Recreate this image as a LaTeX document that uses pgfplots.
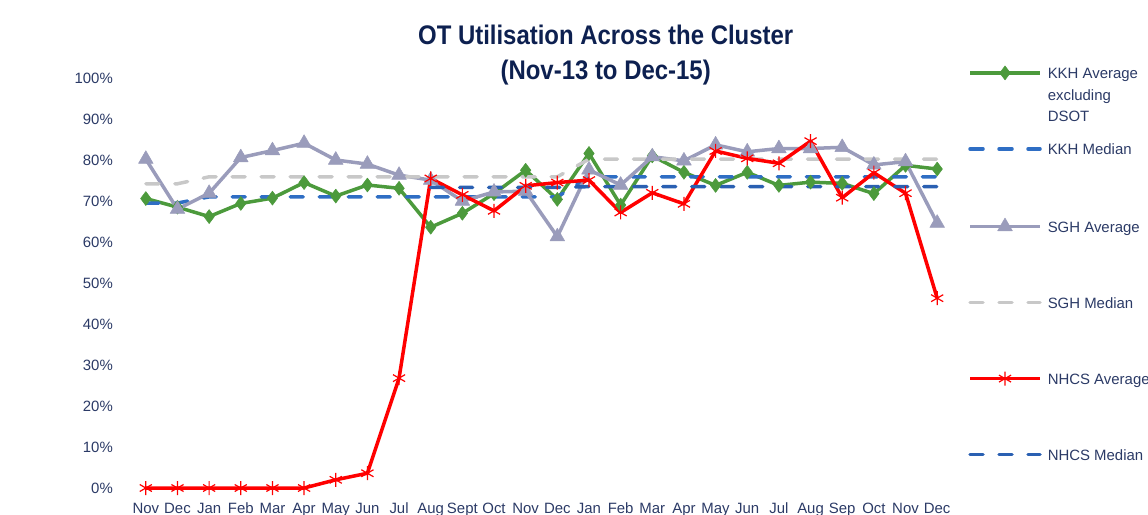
\documentclass[border=0pt]{standalone}
\usepackage{pgfplots}
\pgfplotsset{compat=1.18}
\usepackage{fontspec}
\setmainfont{Liberation Sans}
\definecolor{axtxt}{HTML}{2B3A66}
\definecolor{ttl}{HTML}{0D2050}
\definecolor{kkh}{HTML}{4C9A3C}
\definecolor{kkhmed}{HTML}{2F6EC4}
\definecolor{sgh}{HTML}{9A9CBB}
\definecolor{sghmed}{HTML}{C8C8C8}
\definecolor{nhcs}{HTML}{FF0000}
\definecolor{nhcsmed}{HTML}{2A60B2}
\begin{document}
\begin{tikzpicture}
\begin{axis}[
  at={(130bp,-488bp)}, anchor=south west,
  scale only axis, width=823bp, height=410bp,
  xmin=-0.5, xmax=25.5, ymin=0, ymax=100,
  clip=false,
  axis line style={draw=none},
  major tick length=0pt,
  xtick={0,...,25},
  xticklabels={Nov,Dec,Jan,Feb,Mar,Apr,May,Jun,Jul,Aug,Sept,Oct,Nov,Dec,Jan,Feb,Mar,Apr,May,Jun,Jul,Aug,Sep,Oct,Nov,Dec},
  ytick={0,10,...,100},
  yticklabels={0\%,10\%,20\%,30\%,40\%,50\%,60\%,70\%,80\%,90\%,100\%},
  tick label style={font=\fontsize{15}{18}\selectfont, text=axtxt, inner sep=0pt},
  yticklabel style={xshift=-17bp},
  xticklabel style={anchor=base, yshift=-25bp},
  title={\scalebox{0.89}[1]{OT Utilisation Across the Cluster}\\\scalebox{0.89}[1]{(Nov-13 to Dec-15)}},
  title style={at={(axis description cs:0.578,1.115)}, anchor=north, align=center, font=\fontsize{27}{35}\selectfont\bfseries, text=ttl, inner sep=0pt},
  legend style={at={(axis description cs:1.0183,1.03)}, anchor=north west, draw=none, fill=none, inner sep=0pt, row sep=62bp, column sep=6bp, font=\fontsize{15}{18}\selectfont, text=axtxt, nodes={inner sep=0pt}},
  legend cell align=left,
  legend image code/.code={\draw[mark repeat=2,mark phase=2,#1] plot coordinates {(0bp,0bp) (35bp,0bp) (70bp,0bp)};},
  every axis plot/.append style={line width=3.5bp, line join=round},
]
% KKH average
\addplot[color=kkh, mark=diamond*, mark size=7bp, mark options={solid, fill=kkh, draw=kkh, line width=0.5bp}] coordinates {
(0,70.6) (1,68.5) (2,66.2) (3,69.4) (4,70.7) (5,74.5) (6,71.2) (7,73.9) (8,73.1) (9,63.6) (10,67.0) (11,71.8) (12,77.5)
(13,70.4) (14,81.6) (15,69.0) (16,81.0) (17,77.0) (18,73.8) (19,77.0) (20,73.8) (21,74.6) (22,74.3) (23,71.8) (24,78.7) (25,77.8)};
\addlegendentry{\strut\smash{\fontsize{15}{21.7}\selectfont\begin{tabular}[t]{@{}l@{}}KKH Average\\excluding\\DSOT\end{tabular}}}
% KKH median
\addplot[color=kkhmed, line cap=round, dash pattern=on 13bp off 16bp] coordinates {
(0,69.5) (1,69.5) (2,71.0) (3,71.0) (4,71.0) (5,71.0) (6,71.0) (7,71.0) (8,71.0) (9,71.0) (10,71.0) (11,71.0) (12,71.0)
(13,71.0) (14,75.9) (15,75.9) (16,75.9) (17,75.9) (18,75.9) (19,75.9) (20,75.9) (21,75.9) (22,75.9) (23,75.9) (24,75.9) (25,75.9)};
\addlegendentry{\strut KKH Median}
% SGH average
\addplot[color=sgh, mark=triangle*, mark size=8.5bp, mark options={solid, fill=sgh, draw=sgh, line width=0.5bp}] coordinates {
(0,80.2) (1,68.0) (2,71.9) (3,80.6) (4,82.3) (5,84.1) (6,80.0) (7,79.0) (8,76.3) (9,75.1) (10,70.0) (11,72.2) (12,72.4)
(13,61.3) (14,77.6) (15,73.9) (16,80.8) (17,79.8) (18,83.7) (19,82.0) (20,82.8) (21,82.8) (22,83.1) (23,78.8) (24,79.6) (25,64.6)};
\addlegendentry{\strut SGH Average}
% SGH median
\addplot[color=sghmed, line cap=round, dash pattern=on 13bp off 16bp] coordinates {
(0,74.2) (1,74.2) (2,75.9) (3,75.9) (4,75.9) (5,75.9) (6,75.9) (7,75.9) (8,75.9) (9,75.9) (10,75.9) (11,75.9) (12,75.9)
(13,75.9) (14,80.2) (15,80.2) (16,80.2) (17,80.2) (18,80.2) (19,80.2) (20,80.2) (21,80.2) (22,80.2) (23,80.2) (24,80.2) (25,80.2)};
\addlegendentry{\strut SGH Median}
% NHCS average
\addplot[color=nhcs, mark=asterisk, mark size=7bp, mark options={solid, draw=nhcs, line width=1.2bp}] coordinates {
(0,0) (1,0) (2,0) (3,0) (4,0) (5,0) (6,2.0) (7,3.6) (8,26.8) (9,75.5) (10,71.5) (11,67.6) (12,73.7)
(13,74.5) (14,75.1) (15,67.2) (16,72.0) (17,69.3) (18,82.2) (19,80.4) (20,79.2) (21,84.6) (22,70.8) (23,76.9) (24,71.9) (25,46.3)};
\addlegendentry{\strut NHCS Average}
% NHCS median
\addplot[color=nhcsmed, line cap=round, dash pattern=on 13bp off 16bp] coordinates {
(9,73.3) (10,73.3) (11,73.3) (12,73.3) (13,73.3) (14,73.5) (15,73.5) (16,73.5) (17,73.5) (18,73.5) (19,73.5) (20,73.5)
(21,73.5) (22,73.5) (23,73.5) (24,73.5) (25,73.5)};
\addlegendentry{\strut NHCS Median}
\end{axis}
\pgfresetboundingbox
\path[use as bounding box] (0bp,0bp) rectangle (1148bp,-515bp);
\end{tikzpicture}
\end{document}
